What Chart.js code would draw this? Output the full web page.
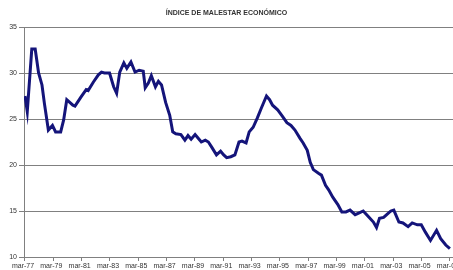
<!DOCTYPE html>
<html>
<head>
<meta charset="utf-8">
<script src="https://cdn.jsdelivr.net/npm/chart.js@4/dist/chart.umd.min.js"></script>
<style>
    html, body { margin: 0; padding: 0; background: #fff; }
    #wrap { width: 453px; height: 270px; }
</style>
</head>
<body>
<div id="wrap"><canvas id="malestar-chart" width="453" height="270"></canvas></div>
<script>
// fechas como año decimal (mar-77 = 1977.17)
const years = [
    1977.17, 1977.33, 1977.65, 1977.89, 1978.13, 1978.37, 1978.54, 1978.82, 1979.11, 1979.33,
    1979.69, 1979.90, 1980.12, 1980.55, 1980.70, 1981.13, 1981.49, 1981.63, 1981.99, 1982.35,
    1982.57, 1982.78, 1983.14, 1983.43, 1983.64, 1983.86, 1984.15, 1984.36, 1984.65, 1984.94,
    1985.23, 1985.52, 1985.66, 1985.88, 1986.09, 1986.38, 1986.59, 1986.81, 1987.10, 1987.39,
    1987.60, 1987.82, 1988.18, 1988.46, 1988.68, 1988.90, 1989.18, 1989.40, 1989.62, 1989.90,
    1990.12, 1990.33, 1990.69, 1990.98, 1991.20, 1991.41, 1991.70, 1991.99, 1992.28, 1992.49,
    1992.78, 1993.00, 1993.28, 1993.57, 1993.86, 1994.22, 1994.44, 1994.65, 1995.01, 1995.30,
    1995.66, 1995.95, 1996.23, 1996.59, 1996.81, 1997.10, 1997.31, 1997.53, 1997.89, 1998.10,
    1998.39, 1998.61, 1998.90, 1999.26, 1999.54, 1999.83, 2000.12, 2000.48, 2000.77, 2001.05,
    2001.41, 2001.77, 2001.99, 2002.20, 2002.49, 2002.71, 2003.00, 2003.21, 2003.57, 2003.86,
    2004.22, 2004.51, 2004.87, 2005.15, 2005.44, 2005.80, 2006.23, 2006.52, 2006.88, 2007.17,
];
const values = [
    27.5, 25.8, 32.6, 32.6, 30.0, 28.7, 26.7, 23.8, 24.3, 23.6,
    23.6, 24.9, 27.1, 26.5, 26.4, 27.4, 28.2, 28.1, 29.0, 29.8,
    30.1, 30.0, 30.0, 28.5, 27.8, 30.1, 31.1, 30.5, 31.2, 30.1,
    30.3, 30.2, 28.4, 28.9, 29.7, 28.5, 29.1, 28.7, 26.8, 25.4,
    23.6, 23.4, 23.3, 22.7, 23.2, 22.8, 23.3, 22.9, 22.5, 22.7,
    22.5, 22.0, 21.1, 21.5, 21.1, 20.8, 20.9, 21.1, 22.5, 22.6,
    22.4, 23.6, 24.1, 25.1, 26.2, 27.5, 27.1, 26.5, 26.0, 25.4,
    24.6, 24.3, 23.8, 22.9, 22.4, 21.6, 20.3, 19.5, 19.1, 18.9,
    17.8, 17.3, 16.5, 15.7, 14.9, 14.9, 15.1, 14.6, 14.8, 15.0,
    14.4, 13.8, 13.2, 14.2, 14.3, 14.6, 15.0, 15.1, 13.8, 13.7,
    13.3, 13.7, 13.5, 13.5, 12.7, 11.8, 12.9, 12.0, 11.3, 10.9,
];
const tickLabels = [
    'mar-77', 'mar-79', 'mar-81', 'mar-83', 'mar-85', 'mar-87', 'mar-89', 'mar-91',
    'mar-93', 'mar-95', 'mar-97', 'mar-99', 'mar-01', 'mar-03', 'mar-05', 'mar-07',
];
const tickYears = [
    1977.17, 1979.17, 1981.17, 1983.17, 1985.17, 1987.17, 1989.17, 1991.17,
    1993.17, 1995.17, 1997.17, 1999.17, 2001.17, 2003.17, 2005.17, 2007.17,
];

const FONT = { family: '"Liberation Sans", Arial, sans-serif', size: 7 };
const GRID = '#808080';

const ctx = document.getElementById('malestar-chart').getContext('2d');
new Chart(ctx, {
    type: 'line',
    data: {
        datasets: [{
            data: years.map((y, i) => ({ x: y, y: values[i] })),
            borderColor: '#14147a',
            borderWidth: 3,
            pointRadius: 0,
            tension: 0,
            fill: false,
        }],
    },
    options: {
        responsive: false,
        animation: false,
        events: [],
        layout: { padding: { left: 0, right: 0, top: 0, bottom: 0 } },
        plugins: {
            legend: { display: false },
            tooltip: { enabled: false },
            title: {
                display: true,
                text: 'ÍNDICE DE MALESTAR ECONÓMICO',
                color: '#333',
                font: { ...FONT, weight: 'bold' },
                padding: { top: 9, bottom: 9.6 },
            },
        },
        scales: {
            x: {
                type: 'linear',
                min: 1977.10,
                max: 2007.39,
                afterBuildTicks: (scale) => {
                    scale.ticks = tickYears.map((v) => ({ value: v }));
                },
                afterFit: (scale) => {
                    scale.height = 13;
                    scale.paddingLeft = 0;
                    scale.paddingRight = 0;
                },
                ticks: {
                    autoSkip: false,
                    maxRotation: 0,
                    padding: 1,
                    labelOffset: -2,
                    color: '#333',
                    font: FONT,
                    callback: (value, index) => tickLabels[index],
                },
                grid: {
                    drawOnChartArea: false,
                    drawTicks: true,
                    tickLength: 4,
                    color: GRID,
                },
                border: { color: GRID, width: 1 },
            },
            y: {
                min: 10,
                max: 35,
                afterFit: (scale) => {
                    scale.width = 24;
                },
                ticks: {
                    stepSize: 5,
                    padding: 2,
                    color: '#333',
                    font: FONT,
                },
                grid: {
                    color: GRID,
                    lineWidth: 1,
                    tickLength: 5,
                },
                border: { color: GRID, width: 1 },
            },
        },
    },
});
</script>
</body>
</html>
